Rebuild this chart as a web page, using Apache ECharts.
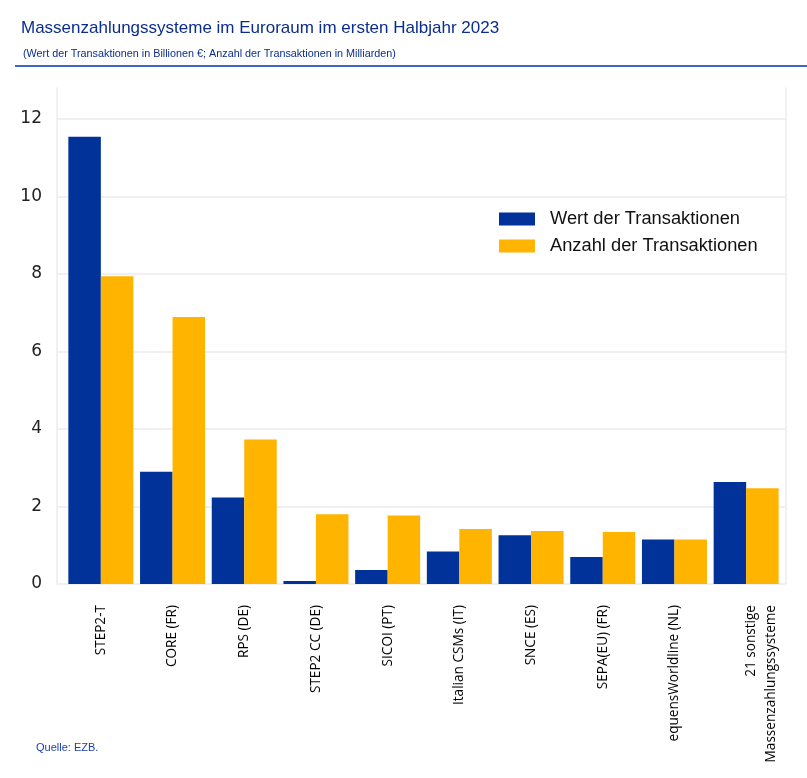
<!DOCTYPE html>
<html>
<head>
<meta charset="utf-8">
<script src="https://cdn.jsdelivr.net/npm/echarts@6/dist/echarts.min.js"></script>
<style>
html,body{margin:0;padding:0;background:#fff;}
#main{width:807px;height:778px;}
</style>
</head>
<body>
<div id="main"></div>
<script>
const categories = ['STEP2-T', 'CORE (FR)', 'RPS (DE)', 'STEP2 CC (DE)', 'SICOI (PT)', 'Italian CSMs (IT)', 'SNCE (ES)', 'SEPA(EU) (FR)', 'equensWorldline (NL)', '21 sonstige\nMassenzahlungssysteme'];
const wertValues = [11.54, 2.90, 2.23, 0.08, 0.36, 0.84, 1.26, 0.70, 1.15, 2.63];
const anzahlValues = [7.94, 6.89, 3.73, 1.80, 1.77, 1.42, 1.37, 1.34, 1.15, 2.47];
const seriesNames = ['Wert der Transaktionen', 'Anzahl der Transaktionen'];
const yTicks = [0, 2, 4, 6, 8, 10, 12];

const chart = echarts.init(document.getElementById('main'), null, {renderer: 'canvas'});
const AX_MAX = 12.8;
const option = {
  animation: false,
  backgroundColor: '#ffffff',
  title: [
    {text: 'Massenzahlungssysteme im Euroraum im ersten Halbjahr 2023', left: 16, top: 15,
     textStyle: {fontFamily: 'Liberation Sans, Arial', fontSize: 17, fontWeight: 'normal', color: '#0b2d8e'}},
    {text: '(Wert der Transaktionen in Billionen €; Anzahl der Transaktionen in Milliarden)', left: 18, top: 44,
     textStyle: {fontFamily: 'Liberation Sans, Arial', fontSize: 10.8, fontWeight: 'normal', color: '#0b2d8e'}},
    {text: 'Quelle: EZB.', left: 31, top: 737,
     textStyle: {fontFamily: 'Liberation Sans, Arial', fontSize: 11, fontWeight: 'normal', color: '#1a3fb0'}}
  ],
  graphic: [
    {type: 'line', shape: {x1: 15, y1: 66, x2: 807, y2: 66}, style: {stroke: '#4169c4', lineWidth: 2}}
  ],
  legend: {
    orient: 'vertical', left: 494, top: 205,
    itemWidth: 36, itemHeight: 13, itemGap: 9,
    icon: 'rect',
    textStyle: {fontFamily: 'Liberation Sans, Arial', fontSize: 18.3, color: '#111', padding: [0, 0, 0, 10]},
    data: seriesNames
  },
  grid: [
    {left: 57, right: 21, top: 88, bottom: 194},
    {left: 65, right: 25, top: 88, bottom: 194}
  ],
  xAxis: [
    {type: 'value', gridIndex: 0, show: false, min: 0, max: 1},
    {type: 'category', gridIndex: 1, data: categories,
     axisLine: {show: false}, axisTick: {show: false},
     axisLabel: {rotate: 90, margin: 21, interval: 0, fontFamily: 'Open Sans', fontSize: 13.6, color: '#000', lineHeight: 20,
       formatter: v => (v.indexOf('\n') >= 0 ? '{gap| }\n' + v : v),
       rich: {gap: {fontSize: 1, lineHeight: 30}}}}
  ],
  yAxis: [
    {type: 'value', gridIndex: 0, min: 0, max: AX_MAX, interval: 2,
     axisLine: {show: true, lineStyle: {color: '#ececec', width: 1.5}},
     axisTick: {show: false},
     axisLabel: {margin: 15, fontFamily: 'DejaVu Sans', fontSize: 17, color: '#222',
       formatter: v => (yTicks.indexOf(v) >= 0 ? String(v) : '')},
     splitLine: {show: true, showMaxLine: false, lineStyle: {color: '#ebebeb', width: 1.5}}},
    {type: 'value', gridIndex: 0, position: 'right', min: 0, max: AX_MAX, interval: 2,
     axisLine: {show: true, lineStyle: {color: '#ececec', width: 1.5}},
     axisTick: {show: false}, axisLabel: {show: false}, splitLine: {show: false}},
    {type: 'value', gridIndex: 1, min: 0, max: AX_MAX, show: false, splitLine: {show: false}}
  ],
  series: [
    {name: seriesNames[0], type: 'bar', xAxisIndex: 1, yAxisIndex: 2, data: wertValues,
     barWidth: 32.5, barGap: '0%', itemStyle: {color: '#003299'}},
    {name: seriesNames[1], type: 'bar', xAxisIndex: 1, yAxisIndex: 2, data: anzahlValues,
     barWidth: 32.5, barGap: '0%', itemStyle: {color: '#ffb400'}}
  ]
};
chart.setOption(option);
</script>
</body>
</html>
